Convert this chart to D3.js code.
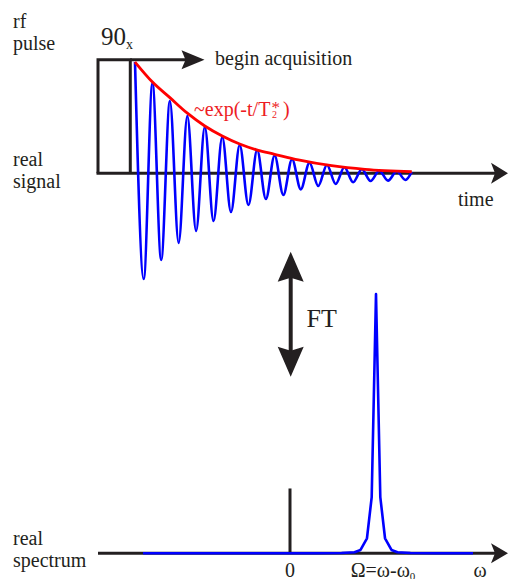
<!DOCTYPE html>
<html><head><meta charset="utf-8">
<script src="https://cdn.jsdelivr.net/npm/d3@7"></script>
<style>html,body{margin:0;padding:0;background:#fff}svg{display:block}</style>
</head><body><svg id="c" width="509" height="579"></svg>
<script>
// ---- data ----
// FID: alternating maxima / minima (time in oscillation periods, signal normalised to pulse height)
const fidTime = [0,0.5,1,1.5,2,2.5,3,3.5,4,4.5,5,5.5,6,6.5,7,7.5,8,8.5,9,9.5,10,10.5,11,11.5,12,12.5,13,13.5,14,14.5,15,15.5,15.86];
const fidSignal = [1.0,-0.95,0.811,-0.779,0.65,-0.626,0.515,-0.518,0.416,-0.429,0.326,-0.348,0.254,-0.285,0.209,-0.231,0.16,-0.195,0.126,-0.144,0.095,-0.114,0.075,-0.096,0.054,-0.081,0.036,-0.069,0.023,-0.066,0.018,-0.06,0.012];
// decay envelope ~exp(-t/T2*)
const envTime = [0,1,2,3,4,5,6,7,8,9.36,11.27,13.18,15.86];
const envValue = [1.0,0.82,0.68,0.54,0.425,0.335,0.263,0.209,0.171,0.12,0.068,0.035,0.014];
// rf pulse (time units) and height
const pulseStart = -2.12, pulseEnd = -0.27, pulseHeight = 1.02;
// spectrum (frequency in units of Omega, intensity normalised)
const specFreq = [-1.709,0.3,0.6,0.75,0.82,0.895,0.95,1.0,1.05,1.105,1.18,1.25,1.4,1.7,2.128];
const specIntensity = [0,0,0.001,0.004,0.013,0.058,0.217,1,0.217,0.058,0.013,0.004,0.001,0,0];
const zeroMarkerHeight = 0.25;
const freqTickValues = [0,1,2.21];
const freqTickLabels = ["0","Ω=ω-ω","ω"];

// ---- drawing ----
const svg = d3.select("#c");
const BLACK = "#231f20", BLUE = "#0000ff", RED = "#ff0000";
const FONT = "'Liberation Serif','Times New Roman',serif";

const xT = d3.scaleLinear().domain([0,16]).range([135,414.2]);
const yT = d3.scaleLinear().domain([0,1]).range([173.3,62]);
const xS = d3.scaleLinear().domain([0,1]).range([290,376]);
const yS = d3.scaleLinear().domain([0,1]).range([553.3,294]);

function arrowHead(g, tx, ty, dx, dy, len, half, notch){
  // dx,dy unit direction of travel
  const px = -dy, py = dx;
  const bx = tx - dx*len, by = ty - dy*len;
  const nx = tx - dx*(len-notch), ny = ty - dy*(len-notch);
  g.append("path")
    .attr("d", `M${tx},${ty} L${bx+px*half},${by+py*half} Q${nx},${ny} ${nx},${ny} Q${nx},${ny} ${bx-px*half},${by-py*half} Z`)
    .attr("fill", BLACK);
}

// left labels
const labels = [["rf",13,28],["pulse",13,50],["real",13,166],["signal",13,188],["real",13,545],["spectrum",13,567]];
svg.selectAll("text.lab").data(labels).enter().append("text")
  .attr("x",d=>d[1]).attr("y",d=>d[2]).text(d=>d[0])
  .attr("font-family",FONT).attr("font-size",20).attr("fill",BLACK);

// time axis
const yAx = yT(0);
svg.append("line").attr("x1",xT(pulseStart)-1.5).attr("x2",495).attr("y1",yAx).attr("y2",yAx)
  .attr("stroke",BLACK).attr("stroke-width",3);
arrowHead(svg,508,yAx,1,0,17,10.5,4);
svg.append("text").attr("x",458).attr("y",206).text("time")
  .attr("font-family",FONT).attr("font-size",20).attr("fill",BLACK);

// rf pulse
svg.append("path")
  .attr("d",`M${xT(pulseStart)},${yAx} V${yT(pulseHeight)} H${xT(pulseEnd)} V${yAx}`)
  .attr("fill","none").attr("stroke",BLACK).attr("stroke-width",3).attr("stroke-linejoin","miter");
const t90 = svg.append("text").attr("x",101).attr("y",44.5)
  .attr("font-family",FONT).attr("font-size",25).attr("fill",BLACK);
t90.append("tspan").text("90");
t90.append("tspan").text("x").attr("font-size",14).attr("dy",4.5);

// begin acquisition arrow
const yTop = yT(pulseHeight);
svg.append("line").attr("x1",xT(pulseEnd)).attr("x2",192).attr("y1",yTop).attr("y2",yTop)
  .attr("stroke",BLACK).attr("stroke-width",3);
arrowHead(svg,204.5,yTop,1,0,23,9.5,4);
svg.append("text").attr("x",215).attr("y",65).text("begin acquisition")
  .attr("font-family",FONT).attr("font-size",20).attr("fill",BLACK);

// FID
const fid = fidTime.map((t,i)=>[t,fidSignal[i]]);
svg.append("path").datum(fid)
  .attr("d", d3.line().x(d=>xT(d[0])).y(d=>yT(d[1])).curve(d3.curveMonotoneX))
  .attr("fill","none").attr("stroke",BLUE).attr("stroke-width",2.6);

// envelope
const env = envTime.map((t,i)=>[t,envValue[i]]);
svg.append("path").datum(env)
  .attr("d", d3.line().x(d=>xT(d[0])).y(d=>yT(d[1])).curve(d3.curveMonotoneX))
  .attr("fill","none").attr("stroke",RED).attr("stroke-width",2.8);

// envelope label
const te = svg.append("text").attr("y",116).attr("font-family",FONT).attr("font-size",20).attr("fill","#ed1c24");
te.append("tspan").attr("x",194).text("~exp(-t/T");
te.append("tspan").attr("x",272).attr("y",118).attr("font-size",10).text("2");
te.append("tspan").attr("x",271.5).attr("y",113).attr("font-size",17).text("*");
te.append("tspan").attr("x",283).attr("y",116).text(")");

// FT double arrow
const fx = 290.7;
svg.append("line").attr("x1",fx).attr("x2",fx).attr("y1",272).attr("y2",357)
  .attr("stroke",BLACK).attr("stroke-width",4);
arrowHead(svg,fx,251.7,0,-1,30,13,4);
arrowHead(svg,fx,376.7,0,1,30,13,4);
svg.append("text").attr("x",306.5).attr("y",327.3).text("FT")
  .attr("font-family",FONT).attr("font-size",26).attr("fill",BLACK);

// spectrum axis
const ySx = yS(0);
svg.append("line").attr("x1",98).attr("x2",495).attr("y1",ySx).attr("y2",ySx)
  .attr("stroke",BLACK).attr("stroke-width",3);
arrowHead(svg,508,ySx,1,0,17,10,4);
// zero marker
svg.append("line").attr("x1",xS(0)).attr("x2",xS(0)).attr("y1",ySx).attr("y2",yS(zeroMarkerHeight))
  .attr("stroke",BLACK).attr("stroke-width",3);

// spectrum line
const spec = specFreq.map((f,i)=>[f,specIntensity[i]]);
svg.append("path").datum(spec)
  .attr("d", d3.line().x(d=>xS(d[0])).y(d=>yS(d[1])).curve(d3.curveLinear))
  .attr("fill","none").attr("stroke",BLUE).attr("stroke-width",2.6).attr("stroke-linejoin","round");

// frequency labels
freqTickValues.forEach((v,i)=>{
  const t = svg.append("text").attr("x",xS(v)).attr("y",577)
    .attr("text-anchor","middle").attr("font-family",FONT).attr("font-size",20).attr("fill",BLACK);
  if(i===1){
    t.attr("x",xS(v)+7);
    t.append("tspan").text(freqTickLabels[i]);
    t.append("tspan").attr("font-size",11).attr("dy",3).text("0");
  } else t.text(freqTickLabels[i]);
});
</script></body></html>
